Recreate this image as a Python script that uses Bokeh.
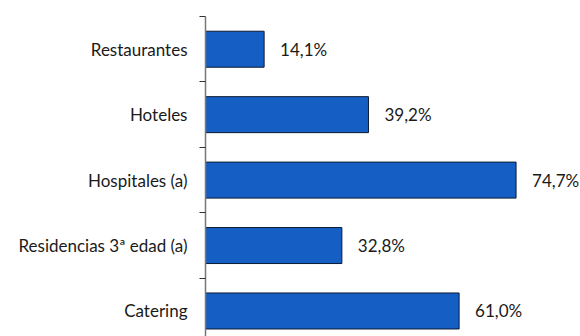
from bokeh.plotting import figure
from bokeh.models import Range1d, FixedTicker, ColumnDataSource
from bokeh.core.properties import value
from bokeh.embed import file_html
from bokeh.resources import INLINE

categories = ["Restaurantes", "Hoteles", "Hospitales (a)", "Residencias 3ª edad (a)", "Catering"]
values = [14.1, 39.2, 74.7, 32.8, 61.0]
labels = ["14,1%", "39,2%", "74,7%", "32,8%", "61,0%"]

n = len(categories)
ypos = [n - 1 - i for i in range(n)]

src = ColumnDataSource(dict(y=ypos, v=values, lab=labels, cat=categories))

FONT = "Lato"

p = figure(width=580, height=336, output_backend="svg", toolbar_location=None,
           x_range=Range1d(0, 90.2), y_range=Range1d(-0.39, n - 0.5),
           min_border_left=205, min_border_right=0, min_border_top=16, min_border_bottom=0)
p.outline_line_color = None
p.background_fill_color = "white"
p.border_fill_color = "white"
p.grid.visible = False
p.xaxis.visible = False

p.hbar(y="y", right="v", left=0, height=0.55, source=src,
       fill_color="#155FC4", line_color="#0b1a33", line_width=1)
p.text(x="v", y="y", text="lab", source=src, x_offset=16, text_baseline="middle",
       text_align="left", text_font=value(FONT), text_font_size="17px", text_color="#1a1a1a")

ya = p.yaxis[0]
ya.ticker = FixedTicker(ticks=ypos, minor_ticks=[i + 0.5 for i in range(n)])
ya.major_label_overrides = {y: c for y, c in zip(ypos, categories)}
ya.major_tick_out = 0
ya.major_tick_in = 0
ya.minor_tick_out = 6
ya.minor_tick_in = 0
ya.minor_tick_line_color = "#333333"
ya.axis_line_color = "#777777"
ya.axis_line_width = 1.5
ya.major_label_standoff = 12
ya.major_label_text_font = FONT
ya.major_label_text_font_size = "17px"
ya.major_label_text_color = "#1a1a1a"

open("out.html", "w").write(file_html(p, INLINE))
